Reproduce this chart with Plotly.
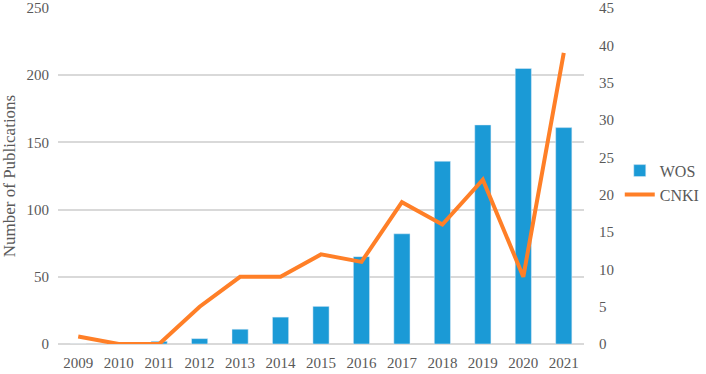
import plotly.graph_objects as go

years = ["2009", "2010", "2011", "2012", "2013", "2014", "2015", "2016", "2017", "2018", "2019", "2020", "2021"]
wos = [0, 0, 2, 4, 11, 20, 28, 65, 82, 136, 163, 205, 161]
cnki = [1, 0, 0, 5, 9, 9, 12, 11, 19, 16, 22, 9, 39]

font_family = "Times New Roman, Liberation Serif, serif"
gray = "#595959"

fig = go.Figure()
fig.add_trace(go.Bar(x=years, y=wos, name="WOS", marker_color="#1b9ad6", yaxis="y"))
fig.add_trace(go.Scatter(x=years, y=cnki, name="CNKI", mode="lines",
                         line=dict(color="#ff7f27", width=4), yaxis="y2"))

fig.update_layout(
    width=706, height=374,
    margin=dict(l=58, r=122, t=8, b=30, autoexpand=False),
    plot_bgcolor="white", paper_bgcolor="white",
    font=dict(family=font_family, size=15, color=gray),
    bargap=0.6,
    showlegend=True,
    legend=dict(x=1.068, y=0.48, xanchor="left", yanchor="middle", itemwidth=30,
                font=dict(family=font_family, size=16, color=gray), tracegroupgap=4),
    xaxis=dict(type="category", showgrid=False, showline=False, ticks="", automargin=False,
               ticklabelstandoff=8,
               tickfont=dict(family=font_family, size=15, color=gray)),
    yaxis=dict(range=[0, 250], dtick=50, showgrid=True, gridcolor="#d9d9d9", automargin=False,
               gridwidth=1.5, zeroline=True, zerolinecolor="#d9d9d9", zerolinewidth=1.5,
               ticklabelstandoff=8,
               title=dict(text="Number of Publications", font=dict(family=font_family, size=17, color=gray), standoff=8),
               tickfont=dict(family=font_family, size=15, color=gray)),
    yaxis2=dict(range=[0, 45], dtick=5, overlaying="y", side="right", showgrid=False, automargin=False,
                zeroline=False, ticklabelstandoff=14,
                tickfont=dict(family=font_family, size=15, color=gray)),
)

fig.write_html("out.html", config={"displayModeBar": False},
               post_script="document.body.style.margin='0';")
